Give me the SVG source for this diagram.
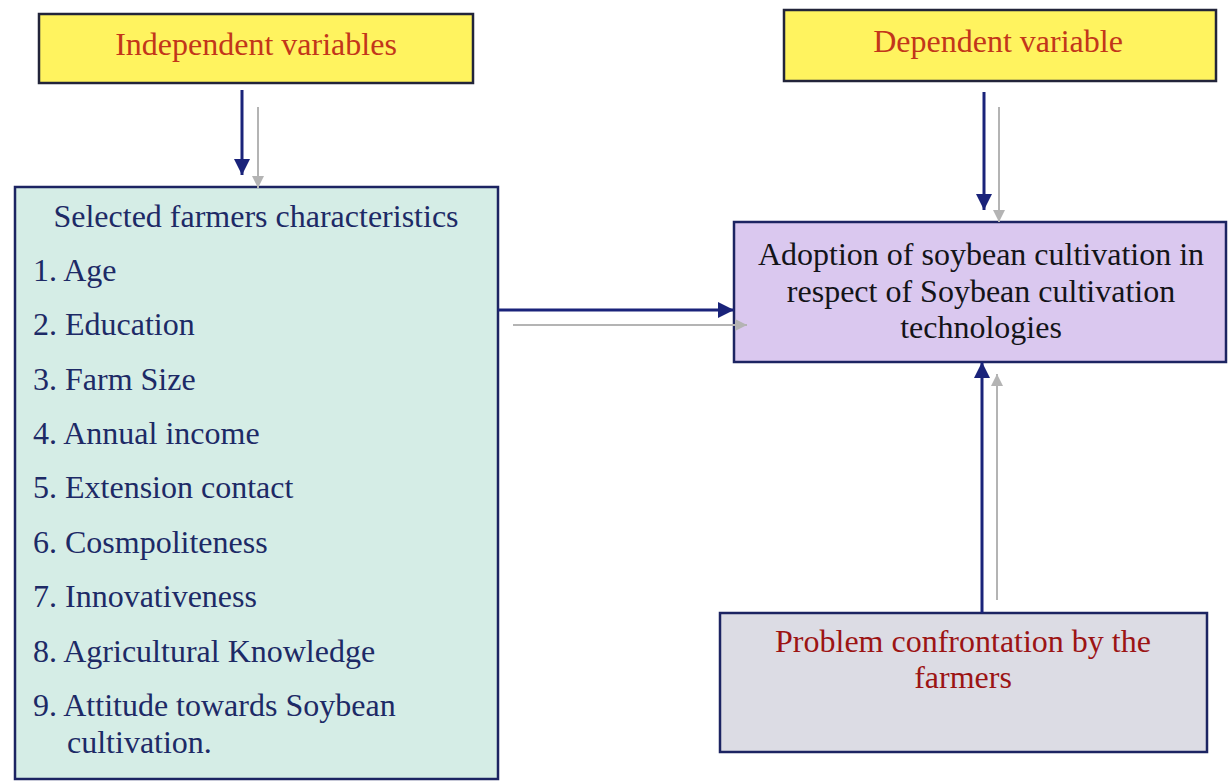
<svg xmlns="http://www.w3.org/2000/svg" width="1229" height="782" viewBox="0 0 1229 782">
  <defs>
    <style>
      .box { stroke: #1c2462; stroke-width: 2.5; }
      .yellow { fill: #fff35f; stroke: #22243a; }
      .cyan { fill: #d5ede6; }
      .lav { fill: #dac8ef; }
      .grey { fill: #dcdce4; }
      text { font-family: "Liberation Serif", "Times New Roman", serif; font-size: 32px; }
      .red { fill: #c2361a; }
      .navy { fill: #1d2a66; }
      .dark { fill: #141418; }
      .maroon { fill: #9c1414; }
      .ca { stroke: #1a237a; stroke-width: 3; fill: none; }
      .cg { stroke: #b4b4b4; stroke-width: 2; fill: none; }
    </style>
    <marker id="ah" viewBox="0 0 16 16" refX="16" refY="8" markerWidth="16" markerHeight="16" markerUnits="userSpaceOnUse" orient="auto">
      <path d="M0,0 L16,8 L0,16 z" fill="#1a237a"/>
    </marker>
    <marker id="ag" viewBox="0 0 12 12" refX="12" refY="6" markerWidth="12" markerHeight="12" markerUnits="userSpaceOnUse" orient="auto">
      <path d="M0,0 L12,6 L0,12 z" fill="#b4b4b4"/>
    </marker>
  </defs>
  <rect width="1229" height="782" fill="#ffffff"/>

  <g id="independent">
    <rect class="box yellow" x="39" y="14" width="434" height="69"/>
    <text class="red" x="256" y="55" text-anchor="middle">Independent variables</text>
  </g>

  <g id="dependent">
    <rect class="box yellow" x="784" y="10" width="432" height="71"/>
    <text class="red" x="998" y="52" text-anchor="middle">Dependent variable</text>
  </g>

  <g id="characteristics">
    <rect class="box cyan" x="15" y="187" width="483" height="592"/>
    <text class="navy" x="256" y="227" text-anchor="middle">Selected farmers characteristics</text>
    <text class="navy" x="33" y="281">1. Age</text>
    <text class="navy" x="33" y="335">2. Education</text>
    <text class="navy" x="33" y="390">3. Farm Size</text>
    <text class="navy" x="33" y="444">4. Annual income</text>
    <text class="navy" x="33" y="498">5. Extension contact</text>
    <text class="navy" x="33" y="553">6. Cosmpoliteness</text>
    <text class="navy" x="33" y="607">7. Innovativeness</text>
    <text class="navy" x="33" y="662">8. Agricultural Knowledge</text>
    <text class="navy" x="33" y="716">9. Attitude towards Soybean</text>
    <text class="navy" x="67" y="753">cultivation.</text>
  </g>

  <g id="adoption">
    <rect class="box lav" x="734" y="222" width="492" height="140"/>
    <text class="dark" x="981" y="265" text-anchor="middle">Adoption of soybean cultivation in</text>
    <text class="dark" x="981" y="302" text-anchor="middle">respect of Soybean cultivation</text>
    <text class="dark" x="981" y="338" text-anchor="middle">technologies</text>
  </g>

  <g id="problem">
    <rect class="box grey" x="720" y="613" width="487" height="139"/>
    <text class="maroon" x="963" y="652" text-anchor="middle">Problem confrontation by the</text>
    <text class="maroon" x="963" y="688" text-anchor="middle">farmers</text>
  </g>

  <g id="connectors">
    <line class="ca" x1="242" y1="90" x2="242" y2="175" marker-end="url(#ah)"/>
    <line class="cg" x1="258" y1="107" x2="258" y2="188" marker-end="url(#ag)"/>
    <line class="ca" x1="984" y1="92" x2="984" y2="210" marker-end="url(#ah)"/>
    <line class="cg" x1="999" y1="107" x2="999" y2="222" marker-end="url(#ag)"/>
    <line class="ca" x1="498" y1="310" x2="734" y2="310" marker-end="url(#ah)"/>
    <line class="cg" x1="513" y1="325" x2="747" y2="325" marker-end="url(#ag)"/>
    <line class="ca" x1="982" y1="613" x2="982" y2="362" marker-end="url(#ah)"/>
    <line class="cg" x1="997" y1="600" x2="997" y2="374" marker-end="url(#ag)"/>
  </g>
</svg>
